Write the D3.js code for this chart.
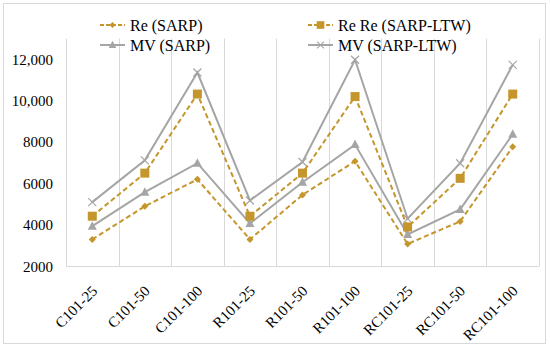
<!DOCTYPE html>
<html>
<head>
<meta charset="utf-8">
<script src="https://cdn.jsdelivr.net/npm/d3@7"></script>
<style>
  body { margin: 0; background: #fff; }
  text { font-family: "Liberation Serif", "Times New Roman", serif; fill: #000; }
</style>
</head>
<body>
<div id="chart"></div>
<script>
const categories = ["C101-25", "C101-50", "C101-100", "R101-25", "R101-50", "R101-100", "RC101-25", "RC101-50", "RC101-100"];
const reSarp = [3300, 4900, 6200, 3300, 5450, 7075, 3080, 4170, 7770];
const reSarpLtw = [4420, 6500, 10320, 4420, 6500, 10200, 3900, 6250, 10320];
const mvSarp = [3940, 5580, 6980, 4070, 6060, 7880, 3540, 4750, 8380];
const mvSarpLtw = [5100, 7120, 11360, 5180, 7040, 11980, 4300, 6980, 11730];
const yTicks = [2000, 4000, 6000, 8000, 10000, 12000];
const yTickLabels = ["2000", "4000", "6000", "8000", "10,000", "12,000"];

const gold = "#C4962C", gray = "#A5A5A5";
const series = [
  { name: "Re (SARP)", values: reSarp, color: gold, dash: "5,3", marker: "diamond" },
  { name: "Re Re (SARP-LTW)", values: reSarpLtw, color: gold, dash: "5,3", marker: "square" },
  { name: "MV (SARP)", values: mvSarp, color: gray, dash: null, marker: "triangle" },
  { name: "MV (SARP-LTW)", values: mvSarpLtw, color: gray, dash: null, marker: "cross" }
];

const width = 550, height = 348;
const svg = d3.select("#chart").append("svg").attr("width", width).attr("height", height);

svg.append("rect").attr("x", 3.5).attr("y", 3.5).attr("width", 542).attr("height", 340)
  .attr("fill", "#fff").attr("stroke", "#d9d9d9");

const x = d3.scaleBand().domain(categories).range([66, 539]);
const y = d3.scaleLinear().domain([2000, 13000]).range([266.3, 38.6]);

// vertical gridlines at category boundaries
const bounds = categories.map(c => x(c)).concat([x.range()[1]]);
svg.append("g").selectAll("line").data(bounds).join("line")
  .attr("x1", d => Math.round(d) + 0.5).attr("x2", d => Math.round(d) + 0.5)
  .attr("y1", y.range()[1]).attr("y2", y.range()[0])
  .attr("stroke", "#d9d9d9").attr("stroke-width", 1);
svg.append("line").attr("x1", 66).attr("x2", 539).attr("y1", 266.5).attr("y2", 266.5)
  .attr("stroke", "#d9d9d9");

// y labels
svg.append("g").selectAll("text").data(yTicks).join("text")
  .attr("x", 53).attr("y", d => y(d)).attr("dy", "0.35em")
  .attr("text-anchor", "end").attr("font-size", 15)
  .text((d, i) => yTickLabels[i]);

// x labels
svg.append("g").selectAll("text").data(categories).join("text")
  .attr("text-anchor", "end").attr("font-size", 15)
  .attr("transform", d => `translate(${x(d) + x.bandwidth() / 2 + 6},${292}) rotate(-45)`)
  .text(d => d);

const cx = c => x(c) + x.bandwidth() / 2;
const line = d3.line().x((d, i) => cx(categories[i])).y(d => y(d));

function drawMarker(g, type, color) {
  if (type === "diamond") {
    g.append("path").attr("d", "M0,-3.5L3.5,0L0,3.5L-3.5,0Z").attr("fill", color);
  } else if (type === "square") {
    g.append("rect").attr("x", -4.5).attr("y", -4.5).attr("width", 9).attr("height", 9).attr("fill", color);
  } else if (type === "triangle") {
    g.append("path").attr("d", "M0,-5L4.5,3.5L-4.5,3.5Z").attr("fill", color);
  } else {
    g.append("path").attr("d", "M-4,-4L4,4M-4,4L4,-4").attr("stroke", color).attr("stroke-width", 1.2).attr("fill", "none");
  }
}

const order = [series[3], series[2], series[1], series[0]];
order.forEach(s => {
  svg.append("path").datum(s.values).attr("d", line)
    .attr("fill", "none").attr("stroke", s.color).attr("stroke-width", 2)
    .attr("stroke-dasharray", s.dash);
  s.values.forEach((v, i) => {
    const g = svg.append("g").attr("transform", `translate(${cx(categories[i])},${y(v)})`);
    drawMarker(g, s.marker, s.color);
  });
});

// legend
const legendPos = [[100, 25], [308, 25], [100, 45], [308, 45]];
series.forEach((s, i) => {
  const [lx, ly] = legendPos[i];
  const g = svg.append("g").attr("transform", `translate(${lx},${ly})`);
  g.append("line").attr("x1", 0).attr("x2", 25).attr("y1", 0).attr("y2", 0)
    .attr("stroke", s.color).attr("stroke-width", 2).attr("stroke-dasharray", s.dash ? "4,2" : null);
  const m = g.append("g").attr("transform", "translate(12.5,0) scale(0.85)");
  drawMarker(m, s.marker, s.color);
  g.append("text").attr("x", 30).attr("y", 0).attr("dy", "0.35em").attr("font-size", 16).text(s.name);
});
</script>
</body>
</html>
